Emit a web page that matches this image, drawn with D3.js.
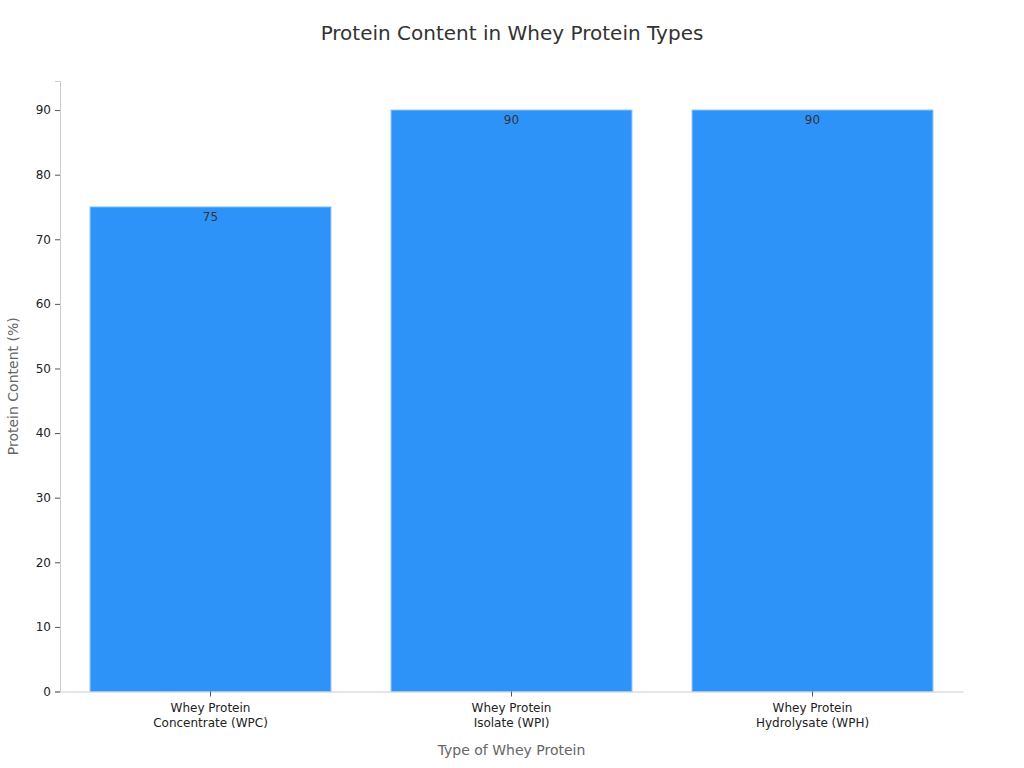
<!DOCTYPE html>
<html>
<head>
<meta charset="utf-8">
<script src="https://cdn.jsdelivr.net/npm/d3@7"></script>
<style>
  body { margin: 0; background: #fff; font-family: "DejaVu Sans", sans-serif; }
</style>
</head>
<body>
<div id="chart"></div>
<script>
const categories = [
  ["Whey Protein", "Concentrate (WPC)"],
  ["Whey Protein", "Isolate (WPI)"],
  ["Whey Protein", "Hydrolysate (WPH)"]
];
const values = [75, 90, 90];
const yTicks = [0, 10, 20, 30, 40, 50, 60, 70, 80, 90];

(function(){
  const W = 1024, H = 768;
  const margin = { top: 81, right: 61, bottom: 76.5, left: 60 };
  const width = W - margin.left - margin.right,
        height = H - margin.top - margin.bottom;

  const svg = d3.select("#chart").append("svg")
    .attr("width", W).attr("height", H)
    .style("font-family", "'DejaVu Sans', sans-serif");

  svg.append("text")
    .attr("x", W / 2).attr("y", 40)
    .attr("text-anchor", "middle")
    .style("font-size", "20px").style("fill", "#333")
    .text("Protein Content in Whey Protein Types");

  const g = svg.append("g").attr("transform", `translate(${margin.left},${margin.top})`);

  const keys = categories.map((c, i) => i);
  const x = d3.scaleBand().domain(keys).range([0, width])
    .paddingInner(0.2).paddingOuter(0.1);
  const y = d3.scaleLinear().domain([0, 94.5]).range([height, 0]);

  // bars
  g.selectAll("rect.bar").data(values).enter().append("rect")
    .attr("class", "bar")
    .attr("x", (d, i) => x(i))
    .attr("y", d => y(d))
    .attr("width", x.bandwidth())
    .attr("height", d => height - y(d))
    .attr("fill", "#2E93F8")
    .attr("stroke", "#7fbcf5")
    .attr("stroke-width", 1);

  g.selectAll("text.val").data(values).enter().append("text")
    .attr("class", "val")
    .attr("x", (d, i) => x(i) + x.bandwidth() / 2)
    .attr("y", d => y(d) + 14)
    .attr("text-anchor", "middle")
    .style("font-size", "12px").style("fill", "#333")
    .text(d => d);

  // y axis
  const ya = g.append("g")
    .call(d3.axisLeft(y).tickValues(yTicks).tickSize(5).tickPadding(4));
  ya.select(".domain").attr("stroke", "#ccc");
  ya.selectAll(".tick line").attr("stroke", "#555");
  ya.selectAll(".tick text").style("font-size", "12px").style("fill", "#222").style("font-family", "'DejaVu Sans', sans-serif");

  // x axis
  const xa = g.append("g").attr("transform", `translate(0,${height})`)
    .call(d3.axisBottom(x).tickSize(5).tickSizeOuter(0).tickFormat(""));
  xa.select(".domain").attr("stroke", "#ccc");
  xa.selectAll(".tick line").attr("stroke", "#555");
  xa.selectAll(".tick").each(function(i) {
    const t = d3.select(this).append("text")
      .attr("fill", "#222")
      .attr("text-anchor", "middle")
      .style("font-size", "12px")
      .style("font-family", "'DejaVu Sans', sans-serif");
    categories[i].forEach((line, k) => {
      t.append("tspan").attr("x", 0).attr("y", 20 + k * 15).text(line);
    });
  });

  // axis titles
  g.append("text")
    .attr("x", width / 2).attr("y", height + 63)
    .attr("text-anchor", "middle")
    .style("font-size", "14px").style("fill", "#666")
    .text("Type of Whey Protein");

  g.append("text")
    .attr("transform", "rotate(-90)")
    .attr("x", -height / 2).attr("y", -42)
    .attr("text-anchor", "middle")
    .style("font-size", "14px").style("fill", "#666")
    .text("Protein Content (%)");
})();
</script>
</body>
</html>
